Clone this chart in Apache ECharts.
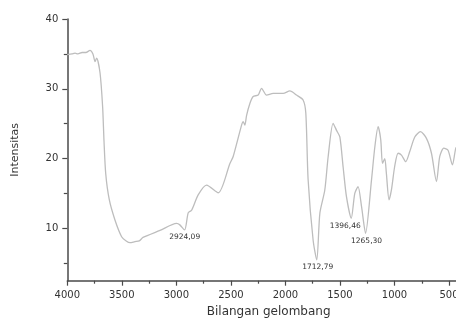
<!DOCTYPE html>
<html>
<head>
<meta charset="utf-8">
<script src="https://cdn.jsdelivr.net/npm/echarts@6/dist/echarts.min.js"></script>
<style>html,body{margin:0;padding:0;background:#fff}#c{width:456px;height:320px}</style>
</head>
<body>
<div id="c"></div>
<script>
const wavenumber = [4000,3957,3929,3902,3865,3829,3792,3765,3746,3731,3700,3676,3664,3648,3615,3563,3502,3460,3425,3380,3340,3306,3150,2998,2968,2924.09,2891,2860,2800,2723,2616,2509,2479,2402,2387,2372,2356,2326,2296,2250,2219,2173,2112,2021,1959,1898,1838,1813,1792,1746,1712.79,1684,1639,1608,1563,1530,1501,1471,1440,1396.46,1364,1334,1302,1265.30,1211,1180,1150,1126,1110,1089,1075,1050,1028,998,967,936,897,860,814,762,707,661,615,585,548,509,469,438,420];
const intensity = [34.9,35.0,35.1,35.0,35.2,35.2,35.5,35.0,33.9,34.4,32.3,27.4,22.7,17.9,14.1,11.2,8.8,8.2,7.95,8.1,8.2,8.7,9.7,10.7,10.5,9.77,12.25,12.6,14.8,16.2,15.1,19.3,20.3,24.8,25.3,24.8,26.2,27.9,28.9,29.1,30.07,29.1,29.35,29.35,29.7,29.1,28.4,26.5,17,8.3,5.47,12.2,15.5,20.3,25.05,24.0,23.1,18.8,14.5,11.45,15.0,15.97,13.1,9.3,16.9,21.7,24.57,22.7,19.3,20.0,18.0,14.1,15.5,18.9,20.76,20.5,19.55,21.0,23.1,23.85,22.9,20.76,16.7,20.3,21.5,21.2,19.1,21.5,21.8];
const peakX = [2924.09, 1712.79, 1396.46, 1265.30];
const peakY = [9.77, 5.47, 11.45, 9.3];
const peakText = ['2924,09', '1712,79', '1396,46', '1265,30'];
const xMajor = [4000,3500,3000,2500,2000,1500,1000,500];
const xMinor = [3750,3250,2750,2250,1750,1250,750];
const yMajor = [10,20,30,40];
const yMinor = [5,15,25,35];

const FONT = 'DejaVu Sans';
const axisCol = '#4a4a4a';
const chart = echarts.init(document.getElementById('c'), null, {renderer:'canvas'});
const data = wavenumber.map((w,i)=>[w, intensity[i]]);
const peakOffsets = [[0,0],[1,0],[-6,1],[1,1]];
const plain = v => String(v);
chart.setOption({
  animation:false,
  backgroundColor:'#fff',
  grid:{left:67.3, right:0, top:19, bottom:39.3, containLabel:false, outerBoundsMode:'none'},
  xAxis:[{
    type:'value', inverse:true, min:436, max:4000,
    name:'Bilangan gelombang', nameLocation:'middle', nameGap:25,
    nameTextStyle:{fontFamily:FONT, fontSize:12, color:'#333', padding:[0,0,0,14]},
    axisLine:{show:true, onZero:false, lineStyle:{color:axisCol, width:1.5}},
    axisTick:{show:true, inside:false, length:5, customValues:xMajor, lineStyle:{color:axisCol, width:1.2}},
    axisLabel:{show:true, customValues:xMajor, formatter:plain, showMinLabel:true, showMaxLabel:true, hideOverlap:false, margin:10, fontFamily:FONT, fontSize:10, color:'#333'},
    splitLine:{show:false}
  },{
    type:'value', inverse:true, min:436, max:4000, position:'bottom',
    axisLine:{show:false, onZero:false},
    axisTick:{show:true, inside:false, length:3, customValues:xMinor, lineStyle:{color:axisCol, width:1.2}},
    axisLabel:{show:false}, splitLine:{show:false}
  }],
  yAxis:[{
    type:'value', min:2.5, max:40,
    name:'Intensitas', nameLocation:'middle', nameGap:47, nameRotate:90,
    nameTextStyle:{fontFamily:FONT, fontSize:11, color:'#333'},
    axisLine:{show:true, onZero:false, lineStyle:{color:axisCol, width:1.5}},
    axisTick:{show:true, inside:false, length:5, customValues:yMajor, lineStyle:{color:axisCol, width:1.2}},
    axisLabel:{show:true, customValues:yMajor, formatter:plain, showMaxLabel:true, margin:9, fontFamily:FONT, fontSize:10, color:'#333'},
    splitLine:{show:false}
  },{
    type:'value', min:2.5, max:40, position:'left',
    axisLine:{show:false, onZero:false},
    axisTick:{show:true, inside:false, length:3.5, customValues:yMinor, lineStyle:{color:axisCol, width:1.2}},
    axisLabel:{show:false}, splitLine:{show:false}
  }],
  series:[{
    type:'line', xAxisIndex:0, yAxisIndex:0, data:data, showSymbol:false, symbol:'none',
    smooth:0.25, clip:true,
    lineStyle:{color:'#bdbdbd', width:1.3},
    markPoint:{
      symbol:'circle', symbolSize:0, itemStyle:{color:'rgba(0,0,0,0)'},
      label:{show:true, position:'bottom', distance:3, fontFamily:FONT, fontSize:7.5, color:'#333'},
      data: peakX.map((x,i)=>({coord:[x, peakY[i]], value:peakText[i],
        label:{formatter:peakText[i], offset:peakOffsets[i]}}))
    }
  }]
});
</script>
</body>
</html>
